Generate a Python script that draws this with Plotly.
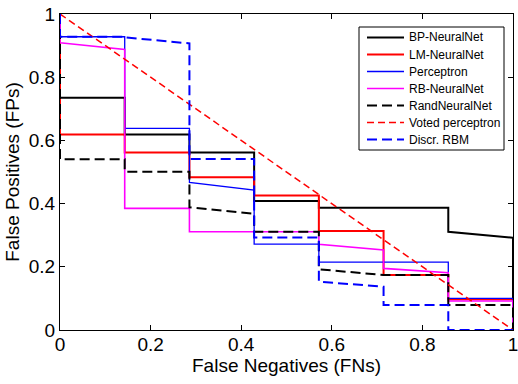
import plotly.graph_objects as go

# Breakpoints on the False Negatives axis (k/7)
fn_breaks = [0, 1/7, 2/7, 3/7, 4/7, 5/7, 6/7, 1]

# Per-interval start / end FP values for each method
bp_start = [0.735, 0.619, 0.562, 0.408, 0.387, 0.387, 0.311]
bp_end = [0.735, 0.619, 0.562, 0.408, 0.387, 0.387, 0.292]

lm_start = [0.619, 0.562, 0.483, 0.426, 0.313, 0.174, 0.097]
lm_end = [0.619, 0.562, 0.483, 0.426, 0.313, 0.174, 0.097]

perc_start = [0.928, 0.638, 0.467, 0.272, 0.215, 0.215, 0.100]
perc_end = [0.928, 0.638, 0.443, 0.272, 0.215, 0.215, 0.100]

rb_start = [0.909, 0.385, 0.311, 0.311, 0.271, 0.195, 0.092]
rb_end = [0.888, 0.385, 0.311, 0.311, 0.253, 0.181, 0.092]

rand_start = [0.540, 0.501, 0.388, 0.311, 0.192, 0.174, 0.079]
rand_end = [0.540, 0.501, 0.368, 0.311, 0.174, 0.174, 0.079]

drbm_start = [0.928, 0.926, 0.541, 0.293, 0.153, 0.079, 0.0]
drbm_end = [0.928, 0.907, 0.541, 0.293, 0.137, 0.079, 0.0]

voted_x = [0, 1]
voted_y = [1, 0]

x_ticks = [0, 0.2, 0.4, 0.6, 0.8, 1]
x_tick_labels = ["0", "0.2", "0.4", "0.6", "0.8", "1"]
y_ticks = [0, 0.2, 0.4, 0.6, 0.8, 1]
y_tick_labels = ["0", "0.2", "0.4", "0.6", "0.8", "1"]

FONT = "Liberation Sans, Arial, Helvetica"


def build(starts, ends):
    xs, ys = [0], [1]
    for k in range(len(starts)):
        xs += [fn_breaks[k], fn_breaks[k + 1]]
        ys += [starts[k], ends[k]]
    xs.append(1)
    ys.append(0)
    return xs, ys


styles = {
    "BP-NeuralNet": ("black", 2, "solid"),
    "LM-NeuralNet": ("#ff0000", 2, "solid"),
    "Perceptron": ("#0000ff", 1.3, "solid"),
    "RB-NeuralNet": ("#ff00ff", 1.6, "solid"),
    "RandNeuralNet": ("black", 2, "10px,5px"),
    "Voted perceptron": ("#ff0000", 1.5, "7px,4px"),
    "Discr. RBM": ("#0000ff", 2, "10px,5px"),
}

curves = [
    ("BP-NeuralNet",) + build(bp_start, bp_end),
    ("LM-NeuralNet",) + build(lm_start, lm_end),
    ("Perceptron",) + build(perc_start, perc_end),
    ("RB-NeuralNet",) + build(rb_start, rb_end),
    ("RandNeuralNet",) + build(rand_start, rand_end),
    ("Voted perceptron", voted_x, voted_y),
    ("Discr. RBM",) + build(drbm_start, drbm_end),
]

fig = go.Figure()
for name, xs, ys in curves:
    col, w, dash = styles[name]
    fig.add_trace(go.Scatter(x=xs, y=ys, mode="lines", name=name,
                             line=dict(color=col, width=w, dash=dash),
                             showlegend=False))

# Hand-built legend box (MATLAB-style, compact rows)
W, H = 518, 384
ml, mr, mt, mb = 60, 5, 14, 54
pw, ph = W - ml - mr, H - mt - mb


def px(xp):
    return (xp - ml) / pw


def py(yp):
    return (H - mb - yp) / ph


shapes = [dict(type="rect", xref="paper", yref="paper",
               x0=px(359), x1=px(504), y0=py(150), y1=py(27),
               line=dict(color="black", width=1), fillcolor="white", layer="above")]
annotations = []
for i, (name, _, _) in enumerate(curves):
    col, w, dash = styles[name]
    yy = py(37.5 + 17 * i)
    shapes.append(dict(type="line", xref="paper", yref="paper",
                       x0=px(367), x1=px(404), y0=yy, y1=yy,
                       line=dict(color=col, width=w, dash=dash), layer="above"))
    annotations.append(dict(xref="paper", yref="paper", x=px(407), y=yy,
                            text=name, showarrow=False, xanchor="left", yanchor="middle",
                            font=dict(family=FONT, size=12, color="black")))

axis_common = dict(
    range=[0, 1], showgrid=False, zeroline=False, showline=True, mirror="ticks",
    linecolor="black", linewidth=1, ticks="inside", ticklen=5, tickcolor="black",
    ticklabeloverflow="allow", automargin=False,
    tickfont=dict(family=FONT, size=19, color="black"),
)

fig.update_layout(
    template="none",
    width=W, height=H,
    margin=dict(l=ml, r=mr, t=mt, b=mb),
    paper_bgcolor="white", plot_bgcolor="white",
    xaxis=dict(axis_common, tickvals=x_ticks, ticktext=x_tick_labels,
               ticklabelstandoff=-3,
               title=dict(text="False Negatives (FNs)", standoff=2,
                          font=dict(family=FONT, size=19, color="black"))),
    yaxis=dict(axis_common, tickvals=y_ticks, ticktext=y_tick_labels,
               title=dict(text="False Positives (FPs)", standoff=4,
                          font=dict(family=FONT, size=19, color="black"))),
    shapes=shapes,
    annotations=annotations,
    showlegend=False,
)

fig.write_html("out.html")
